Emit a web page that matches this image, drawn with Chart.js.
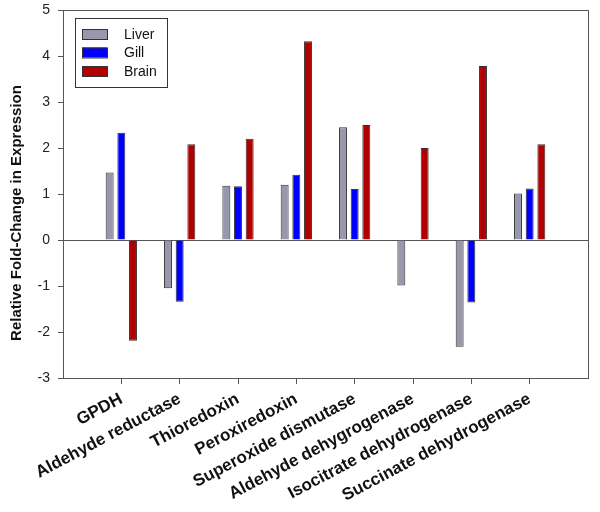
<!DOCTYPE html>
<html lang="en">
<head>
    <meta charset="UTF-8">
    <title>Relative Fold-Change in Expression</title>
    <script src="https://cdn.jsdelivr.net/npm/chart.js"></script>
    <style>
        body { margin: 0; background: #fff; }
    </style>
</head>
<body>
    <canvas id="myChart" width="600" height="512"></canvas>

    <script>
        // values
        const categories = ['GPDH', 'Aldehyde reductase', 'Thioredoxin', 'Peroxiredoxin',
            'Superoxide dismutase', 'Aldehyde dehygrogenase', 'Isocitrate dehydrogenase',
            'Succinate dehydrogenase'];
        const liver = [1.47, -1.05, 1.18, 1.20, 2.45, -0.99, -2.32, 1.01];
        const gill = [2.33, -1.34, 1.17, 1.42, 1.11, null, -1.36, 1.12];
        const brain = [-2.19, 2.08, 2.20, 4.32, 2.50, 2.00, 3.78, 2.08];
        const seriesNames = ['Liver', 'Gill', 'Brain'];
        const seriesColors = ['#9898AC', '#0000FF', '#B20000'];
        const yTitle = 'Relative Fold-Change in Expression';

        // empty slot at each end so the axis runs 0..9 with the groups at 1..8
        const pad = arr => [null, ...arr, null];

        const frame = {
            id: 'frame',
            afterDraw(chart) {
                const { ctx, chartArea: a } = chart;
                ctx.save();
                ctx.strokeStyle = '#555';
                ctx.lineWidth = 1;
                ctx.strokeRect(Math.round(a.left) + 0.5, Math.round(a.top) + 0.5,
                    Math.round(a.right - a.left), Math.round(a.bottom - a.top));

                // y title
                ctx.fillStyle = '#111';
                ctx.font = 'bold 15px "Liberation Sans", Arial, sans-serif';
                ctx.textAlign = 'center';
                ctx.textBaseline = 'middle';
                ctx.translate(17, 213);
                ctx.rotate(-Math.PI / 2);
                ctx.fillText(yTitle, 0, 0);
                ctx.restore();

                // boxed legend
                ctx.save();
                ctx.strokeStyle = '#333';
                ctx.strokeRect(75.5, 18.5, 92, 69);
                ctx.font = '14px "Liberation Sans", Arial, sans-serif';
                ctx.textBaseline = 'middle';
                chart.data.datasets.forEach((ds, i) => {
                    const y = 34 + i * 18.5;
                    ctx.fillStyle = ds.backgroundColor;
                    ctx.fillRect(82, y - 5, 25, 10);
                    ctx.strokeStyle = '#333';
                    ctx.strokeRect(82.5, y - 4.5, 25, 10);
                    ctx.fillStyle = '#111';
                    ctx.fillText(ds.label, 124, y + 1);
                });
                ctx.restore();
            }
        };

        const ctx = document.getElementById('myChart').getContext('2d');
        new Chart(ctx, {
            type: 'bar',
            data: {
                labels: pad(categories),
                datasets: [liver, gill, brain].map((vals, i) => ({
                    label: seriesNames[i],
                    data: pad(vals),
                    backgroundColor: seriesColors[i],
                    borderColor: '#333',
                    borderWidth: 1,
                    categoryPercentage: 0.6,
                    barPercentage: 0.68
                }))
            },
            options: {
                responsive: false,
                animation: false,
                layout: { padding: { top: 10, right: 12, left: 0, bottom: 0 } },
                plugins: {
                    legend: { display: false },
                    tooltip: { enabled: false }
                },
                scales: {
                    x: {
                        offset: false,
                        grid: {
                            offset: false,
                            drawOnChartArea: false,
                            tickLength: 6,
                            tickColor: '#555'
                        },
                        border: { color: '#555' },
                        ticks: {
                            autoSkip: false,
                            minRotation: 28,
                            maxRotation: 28,
                            padding: 5,
                            color: '#111',
                            font: { family: '"Liberation Sans", Arial, sans-serif', size: 17, weight: 'bold' }
                        },
                        afterFit(scale) { scale.height = 134; }
                    },
                    y: {
                        min: -3,
                        max: 5,
                        ticks: {
                            stepSize: 1,
                            padding: 8,
                            color: '#222',
                            font: { family: '"Liberation Sans", Arial, sans-serif', size: 14 }
                        },
                        grid: {
                            color: c => (c.tick && c.tick.value === 0 ? '#555' : 'rgba(0,0,0,0)'),
                            tickColor: '#555',
                            tickLength: 5
                        },
                        border: { color: '#555' },
                        afterFit(scale) {
                            scale.width = 63;
                            scale.paddingTop = 0;
                            scale.paddingBottom = 0;
                        }
                    }
                }
            },
            plugins: [frame]
        });
    </script>
</body>
</html>
